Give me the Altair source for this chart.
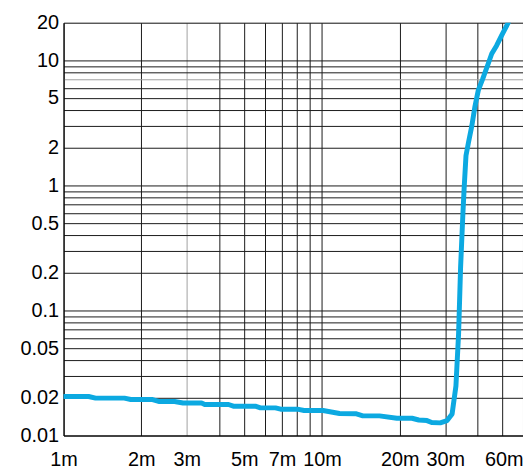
import altair as alt
import pandas as pd

# time in milliseconds
t_ms = [1.0, 1.25, 1.33, 1.72, 1.82, 2.21, 2.35, 2.69, 2.9, 3.42, 3.52, 4.35,
        4.54, 5.52, 5.78, 6.61, 6.92, 8.03, 8.53, 10.1, 11.7, 13.6, 14.4, 16.7,
        19.5, 22.3, 23.7, 25.5, 26.6, 28.7, 30.5, 31.9, 33.0, 33.8, 34.4, 35.1,
        35.5, 36.1, 36.9, 38.0, 39.1, 40.3, 41.9, 44.0, 45.4, 47.4, 49.5, 52.6]
values = [0.0205, 0.0205, 0.0199, 0.0199, 0.0194, 0.0194, 0.0187, 0.0187,
          0.0182, 0.0182, 0.0177, 0.0177, 0.01716, 0.01716, 0.01663, 0.01663,
          0.01624, 0.01624, 0.01584, 0.01584, 0.0150, 0.0149, 0.01436, 0.01436,
          0.01374, 0.01374, 0.0133, 0.01316, 0.01269, 0.01262, 0.01316, 0.01489,
          0.0248, 0.0655, 0.22, 0.58, 0.94, 1.73, 2.2, 2.97, 4.28, 5.78, 7.1,
          9.4, 11.3, 13.1, 15.7, 20.0]

x_ticks = [1, 2, 3, 4, 5, 6, 7, 8, 9, 10, 20, 30, 40, 50, 60]
x_labels = [1, 2, 3, 5, 7, 10, 20, 30, 60]
y_ticks = [0.01, 0.02, 0.03, 0.04, 0.05, 0.06, 0.07, 0.08, 0.09,
           0.1, 0.2, 0.3, 0.4, 0.5, 0.6, 0.7, 0.8, 0.9,
           1, 2, 3, 4, 5, 6, 7, 8, 9, 10, 20]
y_labels = [0.01, 0.02, 0.05, 0.1, 0.2, 0.5, 1, 2, 5, 10, 20]

df = pd.DataFrame({"t": t_ms, "v": values, "i": range(len(t_ms))})

font = "Liberation Sans"

x_axis = alt.Axis(
    values=x_ticks,
    labelExpr="indexof(" + str(x_labels) + ", datum.value) >= 0 ? datum.value + 'm' : ''",
    title=None, ticks=False, domainColor="#000", domainWidth=1,
    grid=True, gridColor={"condition": {"test": "datum.value == 3", "value": "#a0a0a0"}, "value": "#1a1a1a"},
    gridOpacity=1, gridWidth=1,
    labelFont=font, labelFontSize=20, labelColor="#000", labelPadding=14,
    labelAlign={"condition": {"test": "datum.value == 60", "value": "right"}, "value": "center"},
    labelOverlap=False, labelFlush=False,
)
y_axis = alt.Axis(
    values=y_ticks,
    labelExpr="indexof(" + str(y_labels) + ", datum.value) >= 0 ? datum.value + '' : ''",
    title=None, ticks=False, domainColor="#000", domainWidth=1,
    grid=True, gridColor={"condition": {"test": "datum.value == 7", "value": "#a0a0a0"}, "value": "#1a1a1a"},
    gridOpacity=1, gridWidth=1,
    labelFont=font, labelFontSize=20, labelColor="#000", labelPadding=5,
    labelOverlap=False, labelFlush=False,
)

chart = alt.Chart(df).mark_line(
    color="#0CA9E1", strokeWidth=5, strokeCap="round", strokeJoin="round", clip=True
).encode(
    x=alt.X("t:Q", scale=alt.Scale(type="log", domain=[1, 60], nice=False), axis=x_axis),
    y=alt.Y("v:Q", scale=alt.Scale(type="log", domain=[0.01, 20], nice=False), axis=y_axis),
    order="i:Q",
).properties(
    width=463, height=416,
    autosize=alt.AutoSizeParams(type="none"),
    padding={"left": 56, "top": 13, "right": 0, "bottom": 42},
).configure_view(stroke=None).configure(background="white")

chart.save("out.html", embed_options={"renderer": "svg", "actions": False})
